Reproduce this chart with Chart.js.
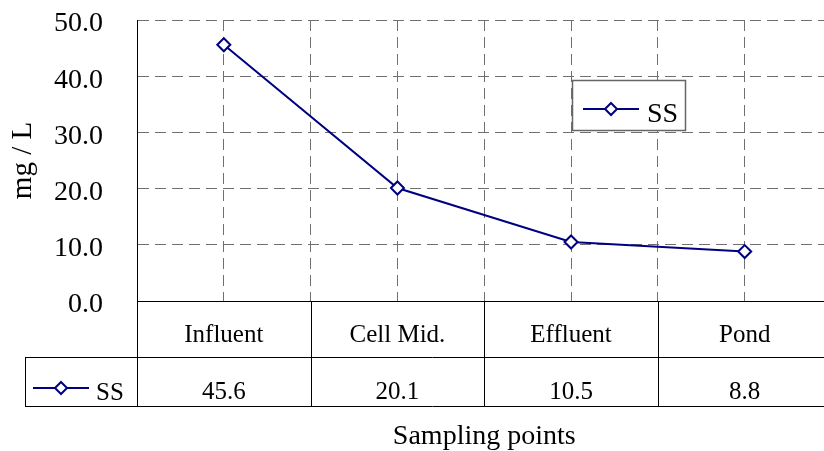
<!DOCTYPE html>
<html><head><meta charset="utf-8">
<script src="https://cdn.jsdelivr.net/npm/chart.js@4/dist/chart.umd.min.js"></script>
<style>
html,body{margin:0;padding:0;background:#fff;overflow:hidden;width:824px;height:451px}
#wrap{width:824px;height:451px;overflow:hidden;position:relative}
canvas{position:absolute;left:0;top:0}
</style></head>
<body><div id="wrap"><canvas id="c" width="840" height="451"></canvas></div>
<script>
const categories = ['Influent', 'Cell Mid.', 'Effluent', 'Pond'];
const seriesName = 'SS';
const ssValues = [45.6, 20.1, 10.5, 8.8];
const yMin = 0, yMax = 50, yStep = 10;
const yTitle = 'mg / L';
const xTitle = 'Sampling points';

const FONT = '"Liberation Serif", "Times New Roman", serif';
const NAVY = '#000080';
const GRID = '#707070';

function diamond(ctx, cx, cy, r) {
  ctx.save();
  ctx.beginPath();
  ctx.moveTo(cx, cy - r); ctx.lineTo(cx + r, cy); ctx.lineTo(cx, cy + r); ctx.lineTo(cx - r, cy); ctx.closePath();
  ctx.fillStyle = '#fff'; ctx.fill();
  ctx.strokeStyle = NAVY; ctx.lineWidth = 2; ctx.stroke();
  ctx.restore();
}
function legendSample(ctx, x1, x2, y) {
  ctx.save();
  ctx.strokeStyle = NAVY; ctx.lineWidth = 2;
  ctx.beginPath(); ctx.moveTo(x1, y); ctx.lineTo(x2, y); ctx.stroke();
  ctx.restore();
  diamond(ctx, (x1 + x2) / 2, y, 6);
}

const tablePlugin = {
  id: 'dataTable',
  afterDraw(chart) {
    const {ctx, chartArea: ca, scales: {x}} = chart;
    const ds = chart.data.datasets[0];
    const top = ca.bottom, r1 = top + 56, r2 = r1 + 49, legLeft = 25;
    const right = chart.width;
    const px = v => Math.round(v) + 0.5;
    ctx.save();
    ctx.strokeStyle = '#000'; ctx.lineWidth = 1;
    ctx.beginPath();
    ctx.moveTo(ca.left, px(top)); ctx.lineTo(right, px(top));
    ctx.moveTo(legLeft, px(r1)); ctx.lineTo(right, px(r1));
    ctx.moveTo(legLeft, px(r2)); ctx.lineTo(right, px(r2));
    for (let i = 0; i < categories.length; i++) {
      const bx = px(x.getPixelForValue(i - 0.5));
      ctx.moveTo(bx, top); ctx.lineTo(bx, r2);
    }
    ctx.moveTo(px(legLeft), r1); ctx.lineTo(px(legLeft), r2);
    ctx.stroke();

    ctx.fillStyle = '#000';
    ctx.font = '25px ' + FONT;
    ctx.textAlign = 'center'; ctx.textBaseline = 'alphabetic';
    categories.forEach((c, i) => {
      const cx = x.getPixelForValue(i);
      ctx.fillText(c, cx, top + 41);
      ctx.fillText(ds.data[i].y.toFixed(1), cx, r1 + 42);
    });
    // legend key in table
    legendSample(ctx, 33, 89, 388);
    ctx.fillStyle = '#000';
    ctx.textAlign = 'left';
    ctx.font = '25px ' + FONT;
    ctx.fillText(ds.label, 96, 400);

    // legend box in plot
    ctx.fillStyle = '#fff';
    ctx.fillRect(572, 80, 114, 51);
    ctx.strokeStyle = '#666'; ctx.lineWidth = 1.5;
    ctx.strokeRect(572.5, 80.5, 113, 50);
    legendSample(ctx, 583, 639, 109);
    ctx.fillStyle = '#000';
    ctx.font = '28px ' + FONT;
    ctx.textAlign = 'left';
    ctx.fillText(ds.label, 647, 122);
    ctx.restore();
  }
};

new Chart(document.getElementById('c'), {
  type: 'line',
  data: {
    datasets: [{
      label: seriesName,
      data: ssValues.map((v, i) => ({x: i, y: v})),
      borderColor: NAVY,
      borderWidth: 2,
      tension: 0,
      pointStyle: 'rectRot',
      pointRadius: 6.5,
      pointHoverRadius: 6.5,
      pointBorderWidth: 2,
      pointBackgroundColor: '#fff',
      pointBorderColor: NAVY,
      clip: false
    }]
  },
  options: {
    responsive: false,
    animation: false,
    devicePixelRatio: 1,
    layout: {padding: {left: 9, top: 20, right: 4, bottom: 0}},
    plugins: {legend: {display: false}, tooltip: {enabled: false}},
    events: [],
    scales: {
      x: {
        type: 'linear',
        min: -0.5,
        max: categories.length - 0.5,
        ticks: {display: false, stepSize: 0.5},
        grid: {color: GRID, lineWidth: 1, drawTicks: false},
        border: {display: true, color: '#000', width: 1, dash: [11, 6]},
        title: {display: true, text: xTitle, color: '#000', font: {family: FONT, size: 28, lineHeight: 1}, padding: 0},
        afterFit: s => { s.height = 150; s.paddingLeft = 0; s.paddingRight = 0; }
      },
      y: {
        min: yMin, max: yMax,
        ticks: {stepSize: yStep, color: '#000', font: {family: FONT, size: 28}, padding: 34, labelOffset: 4,
          callback: v => Number(v).toFixed(1)},
        grid: {color: GRID, lineWidth: 1, drawTicks: false},
        border: {display: true, color: '#000', width: 1, dash: [11, 6]},
        title: {display: true, text: yTitle, color: '#000', font: {family: FONT, size: 29, lineHeight: 1}, padding: 0},
        afterFit: s => { s.width = 128; s.paddingTop = 0; s.paddingBottom = 0; }
      }
    }
  },
  plugins: [tablePlugin]
});
</script>
</body></html>
